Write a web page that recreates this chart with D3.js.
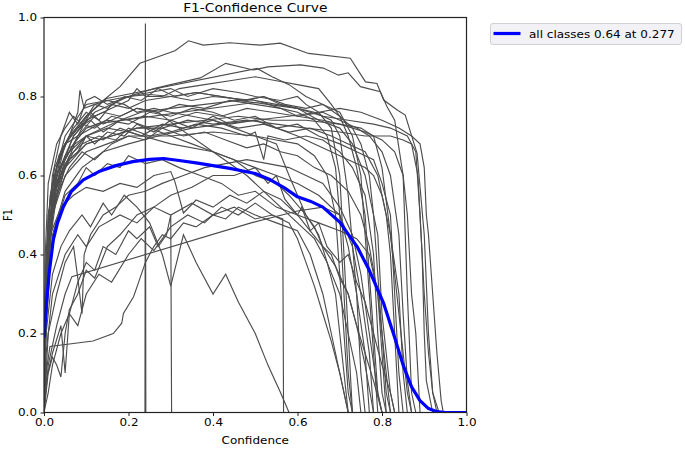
<!DOCTYPE html>
<html>
<head>
<meta charset="utf-8">
<script src="https://cdn.jsdelivr.net/npm/d3@7"></script>
<style>
  body { margin: 0; background: #fff; }
  text { font-family: "DejaVu Sans", sans-serif; fill: #000; }
</style>
</head>
<body>
<div id="chart"></div>
<script>
var width = 685;
var height = 449;
var margin = {left: 44, top: 17.5, right: 218.5, bottom: 36.5};
var stretch = 1.2; // text in the picture is a bit wider than tall

// one [confidence, F1] list per class
var classCurves = [
  [[0,0.1],[0.01,0.45],[0.03,0.62],[0.06,0.7],[0.1,0.75],[0.14,0.79],[0.18,0.825],[0.227,0.884],[0.31,0.916],[0.342,0.941],[0.377,0.93],[0.44,0.936],[0.512,0.93],[0.559,0.935],[0.626,0.909],[0.725,0.897],[0.761,0.837],[0.788,0.833],[0.804,0.791],[0.836,0.766],[0.855,0.753],[0.883,0.656],[0.9,0.45],[0.91,0.2],[0.92,0.05],[0.93,0]],
  [[0,0.05],[0.01,0.4],[0.03,0.6],[0.07,0.7],[0.12,0.76],[0.2,0.8],[0.26,0.82],[0.3,0.83],[0.37,0.847],[0.43,0.884],[0.495,0.867],[0.53,0.875],[0.607,0.88],[0.661,0.872],[0.697,0.854],[0.72,0.86],[0.749,0.825],[0.796,0.812],[0.812,0.774],[0.83,0.74],[0.85,0.6],[0.86,0.3],[0.87,0.05],[0.88,0]],
  [[0,0],[0.005,0.3],[0.02,0.58],[0.05,0.7],[0.1,0.78],[0.15,0.79],[0.2,0.8],[0.25,0.805],[0.3,0.8],[0.35,0.79],[0.4,0.8],[0.45,0.795],[0.5,0.79],[0.55,0.78],[0.6,0.77],[0.65,0.74],[0.7,0.72],[0.73,0.68],[0.76,0.6],[0.79,0.45],[0.8,0.25],[0.82,0.05],[0.83,0]],
  [[0,0],[0.004,0.35],[0.015,0.55],[0.04,0.66],[0.07,0.72],[0.1,0.76],[0.13,0.74],[0.16,0.78],[0.2,0.77],[0.24,0.79],[0.3,0.8],[0.36,0.81],[0.42,0.8],[0.48,0.79],[0.52,0.8],[0.56,0.78],[0.6,0.77],[0.64,0.76],[0.68,0.74],[0.7,0.7],[0.72,0.55],[0.74,0.3],[0.75,0.1],[0.76,0]],
  [[0,0],[0.003,0.3],[0.01,0.5],[0.03,0.62],[0.05,0.68],[0.08,0.7],[0.11,0.76],[0.14,0.73],[0.18,0.75],[0.22,0.77],[0.27,0.76],[0.32,0.78],[0.38,0.77],[0.44,0.79],[0.5,0.78],[0.56,0.77],[0.6,0.75],[0.66,0.74],[0.7,0.73],[0.75,0.72],[0.78,0.7],[0.8,0.62],[0.82,0.45],[0.84,0.3],[0.85,0.1],[0.86,0]],
  [[0,0],[0.005,0.4],[0.02,0.6],[0.04,0.7],[0.06,0.76],[0.08,0.73],[0.1,0.79],[0.12,0.8],[0.15,0.78],[0.2,0.8],[0.25,0.81],[0.3,0.82],[0.34,0.8],[0.4,0.82],[0.46,0.81],[0.5,0.8],[0.56,0.79],[0.6,0.8],[0.62,0.78],[0.65,0.76],[0.68,0.72],[0.7,0.6],[0.71,0.4],[0.72,0.2],[0.73,0]],
  [[0,0],[0.006,0.3],[0.02,0.5],[0.04,0.6],[0.07,0.66],[0.1,0.7],[0.14,0.72],[0.18,0.74],[0.23,0.76],[0.3,0.77],[0.38,0.78],[0.46,0.79],[0.53,0.78],[0.6,0.77],[0.66,0.75],[0.72,0.74],[0.78,0.73],[0.82,0.72],[0.86,0.7],[0.88,0.66],[0.89,0.5],[0.9,0.3],[0.91,0.15],[0.92,0.05],[0.935,0]],
  [[0,0],[0.004,0.2],[0.015,0.45],[0.03,0.57],[0.06,0.64],[0.1,0.68],[0.16,0.7],[0.22,0.72],[0.28,0.72],[0.34,0.74],[0.4,0.73],[0.48,0.74],[0.55,0.73],[0.62,0.72],[0.7,0.71],[0.76,0.7],[0.82,0.7],[0.85,0.69],[0.87,0.68],[0.885,0.6],[0.895,0.4],[0.9,0.2],[0.905,0.08],[0.92,0]],
  [[0,0],[0.005,0.3],[0.02,0.55],[0.05,0.63],[0.08,0.66],[0.1,0.7],[0.12,0.68],[0.15,0.71],[0.19,0.7],[0.22,0.73],[0.26,0.71],[0.3,0.74],[0.35,0.72],[0.4,0.75],[0.44,0.73],[0.5,0.74],[0.55,0.72],[0.6,0.73],[0.65,0.7],[0.7,0.68],[0.74,0.66],[0.78,0.64],[0.8,0.58],[0.82,0.5],[0.83,0.3],[0.84,0.1],[0.85,0]],
  [[0,0],[0.003,0.25],[0.012,0.45],[0.03,0.58],[0.06,0.65],[0.09,0.68],[0.13,0.7],[0.17,0.69],[0.2,0.72],[0.25,0.7],[0.3,0.71],[0.36,0.73],[0.42,0.72],[0.48,0.7],[0.5,0.71],[0.52,0.64],[0.53,0.7],[0.57,0.69],[0.62,0.7],[0.66,0.69],[0.7,0.66],[0.73,0.62],[0.76,0.55],[0.78,0.4],[0.79,0.2],[0.8,0.05],[0.81,0]],
  [[0,0],[0.005,0.3],[0.02,0.55],[0.04,0.65],[0.06,0.7],[0.08,0.76],[0.085,0.816],[0.095,0.77],[0.12,0.78],[0.15,0.79],[0.19,0.78],[0.22,0.76],[0.26,0.77],[0.3,0.76],[0.35,0.75],[0.4,0.74],[0.45,0.72],[0.5,0.7],[0.55,0.69],[0.6,0.68],[0.64,0.65],[0.67,0.6],[0.69,0.5],[0.7,0.35],[0.71,0.2],[0.72,0.05],[0.73,0]],
  [[0,0],[0.004,0.3],[0.015,0.5],[0.04,0.62],[0.07,0.7],[0.1,0.74],[0.14,0.76],[0.18,0.75],[0.22,0.77],[0.27,0.76],[0.32,0.72],[0.4,0.66],[0.48,0.6],[0.56,0.52],[0.6,0.48],[0.64,0.44],[0.67,0.38],[0.7,0.3],[0.72,0.2],[0.74,0.1],[0.75,0]],
  [[0,0],[0.004,0.2],[0.015,0.38],[0.03,0.48],[0.05,0.55],[0.08,0.58],[0.1,0.62],[0.12,0.6],[0.15,0.63],[0.18,0.62],[0.2,0.65],[0.24,0.63],[0.28,0.64],[0.32,0.62],[0.37,0.6],[0.42,0.58],[0.46,0.55],[0.5,0.56],[0.55,0.52],[0.6,0.5],[0.65,0.48],[0.7,0.46],[0.74,0.44],[0.77,0.4],[0.79,0.3],[0.8,0.15],[0.81,0]],
  [[0,0],[0.003,0.3],[0.01,0.5],[0.025,0.62],[0.05,0.68],[0.08,0.72],[0.11,0.74],[0.14,0.71],[0.18,0.74],[0.24,0.75],[0.3,0.74],[0.36,0.76],[0.42,0.75],[0.48,0.77],[0.54,0.76],[0.6,0.75],[0.66,0.76],[0.7,0.74],[0.74,0.72],[0.77,0.7],[0.8,0.66],[0.82,0.6],[0.84,0.45],[0.85,0.25],[0.86,0.08],[0.87,0]],
  [[0,0],[0.005,0.25],[0.02,0.45],[0.05,0.56],[0.09,0.62],[0.14,0.66],[0.2,0.68],[0.27,0.7],[0.35,0.72],[0.42,0.73],[0.5,0.74],[0.58,0.75],[0.65,0.76],[0.7,0.77],[0.75,0.76],[0.8,0.74],[0.84,0.72],[0.87,0.7],[0.89,0.68],[0.9,0.62],[0.905,0.5],[0.91,0.45],[0.92,0.3],[0.93,0.15],[0.94,0.03],[0.945,0]],
  [[0,0],[0.005,0.1],[0.014,0.167],[0.116,0.181],[0.164,0.2],[0.184,0.226],[0.188,0.251],[0.212,0.293],[0.223,0.327],[0.24,0.38],[0.26,0.42],[0.28,0.45],[0.3,0.44],[0.33,0.48],[0.36,0.47],[0.4,0.5],[0.43,0.49],[0.46,0.52],[0.5,0.5],[0.55,0.48],[0.6,0.46],[0.63,0.4],[0.66,0.3],[0.68,0.2],[0.7,0.1],[0.72,0]],
  [[0,0],[0.01,0.12],[0.03,0.22],[0.05,0.3],[0.066,0.344],[0.49,0.48],[0.6,0.51],[0.66,0.52],[0.7,0.5],[0.72,0.42],[0.74,0.3],[0.76,0.15],[0.77,0]],
  [[0,0],[0.005,0.08],[0.02,0.15],[0.04,0.22],[0.05,0.1],[0.06,0.25],[0.08,0.33],[0.1,0.38],[0.12,0.36],[0.14,0.42],[0.17,0.4],[0.2,0.46],[0.22,0.44],[0.25,0.47],[0.27,0.42],[0.29,0.45],[0.3,0.5],[0.302,0]],
  [[0,0],[0.239,0],[0.24,0.985],[0.241,0]],
  [[0,0],[0.005,0.15],[0.02,0.3],[0.05,0.4],[0.08,0.45],[0.1,0.42],[0.13,0.47],[0.18,0.5],[0.22,0.48],[0.26,0.52],[0.3,0.5],[0.35,0.53],[0.4,0.5],[0.45,0.52],[0.5,0.49],[0.54,0.5],[0.565,0.49],[0.567,0]],
  [[0,0],[0.005,0.2],[0.02,0.35],[0.04,0.42],[0.06,0.46],[0.09,0.5],[0.11,0.47],[0.14,0.53],[0.16,0.5],[0.19,0.55],[0.22,0.52],[0.25,0.48],[0.28,0.4],[0.3,0.32],[0.33,0.45],[0.36,0.38],[0.4,0.3],[0.43,0.35],[0.46,0.28],[0.5,0.2],[0.53,0.12],[0.56,0.05],[0.58,0]],
  [[0,0],[0.004,0.3],[0.015,0.45],[0.04,0.52],[0.07,0.55],[0.1,0.57],[0.14,0.56],[0.18,0.58],[0.22,0.57],[0.26,0.6],[0.3,0.61],[0.31,0.584],[0.33,0.505],[0.36,0.538],[0.4,0.52],[0.44,0.55],[0.48,0.53],[0.52,0.56],[0.56,0.54],[0.6,0.5],[0.63,0.46],[0.66,0.42],[0.69,0.37],[0.72,0.3],[0.74,0.22],[0.76,0.12],[0.78,0]],
  [[0,0],[0.01,0.1],[0.02,0.14],[0.03,0.12],[0.04,0.09],[0.05,0.2],[0.06,0.26],[0.08,0.3],[0.1,0.36],[0.12,0.34],[0.15,0.42],[0.18,0.45],[0.22,0.5],[0.26,0.52],[0.3,0.55],[0.35,0.57],[0.4,0.6],[0.45,0.6],[0.5,0.62],[0.55,0.6],[0.6,0.58],[0.65,0.55],[0.7,0.5],[0.73,0.42],[0.75,0.3],[0.77,0.15],[0.78,0]],
  [[0,0],[0.01,0.2],[0.03,0.3],[0.05,0.38],[0.07,0.42],[0.08,0.34],[0.09,0.25],[0.095,0.4],[0.11,0.45],[0.14,0.5],[0.17,0.52],[0.2,0.55],[0.24,0.56],[0.28,0.58],[0.33,0.6],[0.38,0.62],[0.43,0.63],[0.48,0.64],[0.53,0.63],[0.58,0.62],[0.62,0.6],[0.66,0.58],[0.7,0.52],[0.73,0.45],[0.75,0.35],[0.77,0.2],[0.79,0.05],[0.8,0]],
  [[0,0],[0.005,0.3],[0.02,0.5],[0.05,0.6],[0.1,0.66],[0.15,0.68],[0.2,0.7],[0.3,0.7],[0.4,0.71],[0.5,0.7],[0.55,0.68],[0.58,0.6],[0.6,0.55],[0.62,0.5],[0.64,0.47],[0.66,0.42],[0.68,0.4],[0.7,0.34],[0.72,0.3],[0.74,0.22],[0.76,0.15],[0.78,0.08],[0.8,0]],
  [[0,0],[0.004,0.35],[0.015,0.55],[0.035,0.65],[0.06,0.7],[0.09,0.73],[0.12,0.72],[0.16,0.75],[0.2,0.74],[0.25,0.72],[0.3,0.7],[0.35,0.68],[0.4,0.66],[0.45,0.64],[0.5,0.6],[0.55,0.58],[0.58,0.55],[0.62,0.5],[0.65,0.45],[0.67,0.38],[0.69,0.3],[0.7,0.2],[0.71,0.1],[0.72,0]],
  [[0,0],[0.004,0.28],[0.015,0.5],[0.04,0.62],[0.07,0.68],[0.1,0.72],[0.15,0.74],[0.2,0.73],[0.25,0.76],[0.3,0.75],[0.35,0.77],[0.4,0.76],[0.45,0.74],[0.5,0.75],[0.55,0.72],[0.6,0.7],[0.64,0.68],[0.68,0.66],[0.72,0.64],[0.76,0.62],[0.78,0.6],[0.8,0.55],[0.82,0.45],[0.83,0.35],[0.845,0.2],[0.86,0.05],[0.87,0]],
  [[0,0],[0.003,0.2],[0.01,0.4],[0.03,0.55],[0.06,0.62],[0.09,0.66],[0.12,0.64],[0.16,0.68],[0.2,0.7],[0.24,0.69],[0.28,0.72],[0.33,0.7],[0.38,0.71],[0.43,0.69],[0.48,0.67],[0.52,0.68],[0.56,0.66],[0.6,0.65],[0.64,0.62],[0.68,0.6],[0.72,0.56],[0.75,0.5],[0.77,0.42],[0.79,0.3],[0.8,0.2],[0.81,0.1],[0.82,0]],
  [[0,0],[0.005,0.3],[0.02,0.52],[0.05,0.62],[0.1,0.68],[0.16,0.7],[0.22,0.72],[0.3,0.73],[0.38,0.74],[0.46,0.75],[0.54,0.74],[0.62,0.74],[0.7,0.73],[0.76,0.71],[0.8,0.69],[0.83,0.66],[0.85,0.6],[0.86,0.5],[0.865,0.4],[0.87,0.3],[0.88,0.2],[0.885,0.1],[0.89,0]],
  [[0,0],[0.004,0.25],[0.012,0.48],[0.03,0.6],[0.06,0.67],[0.1,0.7],[0.14,0.69],[0.18,0.72],[0.23,0.7],[0.28,0.73],[0.33,0.72],[0.4,0.74],[0.46,0.72],[0.52,0.73],[0.58,0.71],[0.63,0.72],[0.68,0.7],[0.72,0.68],[0.76,0.66],[0.79,0.6],[0.81,0.5],[0.82,0.4],[0.825,0.3],[0.83,0.2],[0.835,0.1],[0.84,0]],
  [[0,0],[0.003,0.2],[0.01,0.4],[0.025,0.55],[0.05,0.64],[0.08,0.7],[0.12,0.75],[0.16,0.77],[0.2,0.79],[0.22,0.82],[0.24,0.8],[0.28,0.8],[0.32,0.82],[0.38,0.83],[0.44,0.84],[0.5,0.85],[0.55,0.84],[0.6,0.83],[0.65,0.82],[0.68,0.78],[0.7,0.75],[0.72,0.7],[0.74,0.62],[0.76,0.5],[0.77,0.35],[0.78,0.2],[0.79,0.05],[0.8,0]],
  [[0,0],[0.005,0.3],[0.02,0.55],[0.05,0.68],[0.1,0.75],[0.148,0.795],[0.504,0.871],[0.54,0.85],[0.58,0.83],[0.62,0.8],[0.66,0.78],[0.7,0.76],[0.73,0.7],[0.75,0.6],[0.76,0.45],[0.77,0.3],[0.78,0.15],[0.79,0]],
  [[0,0],[0.004,0.3],[0.02,0.5],[0.05,0.62],[0.08,0.7],[0.133,0.732],[0.512,0.787],[0.56,0.77],[0.6,0.76],[0.64,0.74],[0.67,0.7],[0.69,0.62],[0.7,0.5],[0.71,0.3],[0.72,0.1],[0.73,0]],
  [[0,0],[0.01,0.05],[0.02,0.12],[0.04,0.2],[0.06,0.25],[0.08,0.22],[0.1,0.3],[0.13,0.35],[0.16,0.33],[0.2,0.4],[0.23,0.44],[0.26,0.41],[0.3,0.47],[0.34,0.5],[0.38,0.48],[0.42,0.52],[0.46,0.5],[0.5,0.53],[0.54,0.5],[0.58,0.48],[0.6,0.44],[0.62,0.38],[0.64,0.32],[0.66,0.25],[0.68,0.18],[0.7,0.1],[0.72,0]],
  [[0,0],[0.005,0.35],[0.02,0.55],[0.05,0.65],[0.1,0.7],[0.15,0.72],[0.2,0.71],[0.3,0.68],[0.4,0.66],[0.45,0.64],[0.5,0.62],[0.53,0.58],[0.55,0.6],[0.57,0.54],[0.6,0.5],[0.61,0.52],[0.63,0.46],[0.65,0.48],[0.67,0.42],[0.7,0.38],[0.72,0.4],[0.74,0.33],[0.76,0.28],[0.78,0.2],[0.8,0.12],[0.82,0.05],[0.83,0]],
  [[0,0],[0.003,0.4],[0.01,0.58],[0.03,0.68],[0.05,0.72],[0.07,0.75],[0.09,0.73],[0.12,0.78],[0.15,0.77],[0.19,0.8],[0.23,0.79],[0.27,0.82],[0.31,0.8],[0.36,0.81],[0.42,0.8],[0.47,0.79],[0.52,0.8],[0.57,0.78],[0.62,0.77],[0.66,0.78],[0.7,0.75],[0.73,0.72],[0.75,0.68],[0.77,0.6],[0.78,0.5],[0.79,0.35],[0.8,0.2],[0.81,0.05],[0.82,0]]
];

// mean over all classes (blue)
var meanConf = [0, 0.006, 0.012, 0.022, 0.032, 0.046, 0.065, 0.093, 0.13, 0.17, 0.21, 0.25, 0.283, 0.32, 0.36, 0.44, 0.5, 0.536, 0.57, 0.6, 0.63, 0.66, 0.7, 0.741, 0.77, 0.804, 0.83, 0.85, 0.87, 0.89, 0.91, 0.93, 0.95, 1.0];
var meanF1 = [0.19, 0.277, 0.35, 0.437, 0.48, 0.521, 0.56, 0.589, 0.61, 0.625, 0.635, 0.641, 0.643, 0.638, 0.632, 0.618, 0.605, 0.589, 0.568, 0.546, 0.535, 0.52, 0.482, 0.42, 0.36, 0.276, 0.19, 0.12, 0.065, 0.03, 0.01, 0.002, 0, 0];

var xTicks = [0, 0.2, 0.4, 0.6, 0.8, 1.0];
var yTicks = [0, 0.2, 0.4, 0.6, 0.8, 1.0];
var legendLabel = "all classes 0.64 at 0.277";

var plotW = width - margin.left - margin.right;
var plotH = height - margin.top - margin.bottom;

var x = d3.scaleLinear().domain([0, 1]).range([0, plotW]);
var y = d3.scaleLinear().domain([0, 1]).range([plotH, 0]);

var svg = d3.select("#chart")
  .append("svg")
  .attr("width", width)
  .attr("height", height);

var plot = svg.append("g")
  .attr("transform", `translate(${margin.left},${margin.top})`);

plot.append("clipPath").attr("id", "clip")
  .append("rect").attr("width", plotW).attr("height", plotH);

var line = d3.line()
  .x(d => x(d[0]))
  .y(d => y(d[1]));

var curves = plot.append("g").attr("clip-path", "url(#clip)");

curves.selectAll("path.cls")
  .data(classCurves)
  .join("path")
  .attr("class", "cls")
  .attr("d", line)
  .attr("fill", "none")
  .attr("stroke", "#4d4d4d")
  .attr("stroke-width", 1.15);

curves.append("path")
  .attr("d", line(meanConf.map((c, i) => [c, meanF1[i]])))
  .attr("fill", "none")
  .attr("stroke", "#0000ff")
  .attr("stroke-width", 3.2)
  .attr("stroke-linejoin", "round");

// axes
var xAxis = plot.append("g")
  .attr("transform", `translate(0,${plotH})`)
  .call(d3.axisBottom(x).tickValues(xTicks).tickFormat(d3.format(".1f")).tickSize(3.5).tickPadding(2.5));

var yAxis = plot.append("g")
  .call(d3.axisLeft(y).tickValues(yTicks).tickFormat(d3.format(".1f")).tickSize(3.5).tickPadding(3));

[xAxis, yAxis].forEach(function(ax) {
  ax.select(".domain").remove();
  ax.selectAll("line").attr("stroke", "#222").attr("stroke-width", 1);
  ax.selectAll("text")
    .attr("font-size", 10)
    .attr("fill", "#000")
    .attr("font-family", "DejaVu Sans");
});
xAxis.selectAll("text").attr("transform", `scale(${stretch},1)`);
yAxis.selectAll("text")
  .attr("x", -7 / stretch)
  .attr("transform", `scale(${stretch},1)`);

// frame
plot.append("rect")
  .attr("width", plotW)
  .attr("height", plotH)
  .attr("fill", "none")
  .attr("stroke", "#222")
  .attr("stroke-width", 1.2);

function stretchedText(px, py, str, size) {
  var g = svg.append("g")
    .attr("transform", `translate(${px},${py})`);
  g.append("text")
    .attr("transform", `scale(${stretch},1)`)
    .attr("text-anchor", "middle")
    .attr("font-size", size)
    .text(str);
  return g;
}

stretchedText(margin.left + plotW / 2, 11.5, "F1-Confidence Curve", 11.5);
stretchedText(margin.left + plotW / 2, 443.5, "Confidence", 10);
// the rotated label is stretched along its height instead
var yl = svg.append("g").attr("transform", "translate(11.5,215) rotate(-90)");
yl.append("text")
  .attr("text-anchor", "middle")
  .attr("font-size", 10)
  .attr("transform", `scale(1,${stretch})`)
  .text("F1");

// legend
var legend = svg.append("g").attr("transform", "translate(490.5,23.5)");
legend.append("rect")
  .attr("width", 191)
  .attr("height", 21)
  .attr("rx", 2.5)
  .attr("fill", "#f2f2f6")
  .attr("stroke", "#cfcfd6")
  .attr("stroke-width", 1);
legend.append("line")
  .attr("x1", 3).attr("x2", 30)
  .attr("y1", 10).attr("y2", 10)
  .attr("stroke", "#0000ff")
  .attr("stroke-width", 3.2);
legend.append("text")
  .attr("transform", `translate(38.5,14.3) scale(${stretch},1)`)
  .attr("font-size", 10)
  .text(legendLabel);
</script>
</body>
</html>
